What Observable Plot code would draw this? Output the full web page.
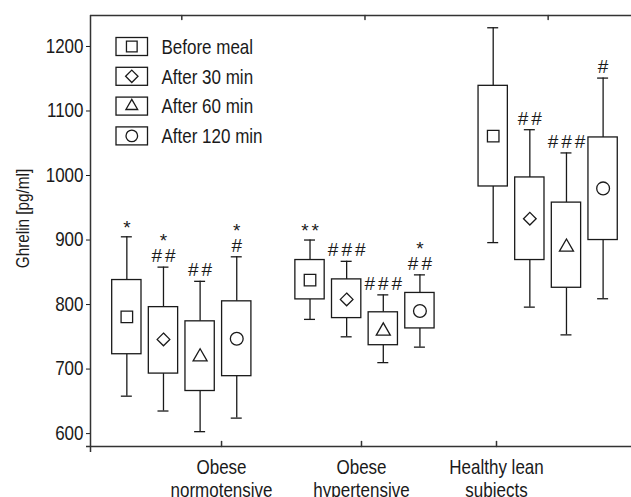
<!DOCTYPE html>
<html><head><meta charset="utf-8">
<script src="https://cdn.jsdelivr.net/npm/d3@7"></script>
<script src="https://cdn.jsdelivr.net/npm/@observablehq/plot@0.6"></script>
<style>
html,body{margin:0;padding:0;background:#fff;}
#chart{position:relative;width:631px;height:497px;overflow:hidden}
</style></head><body><div id="chart"></div>
<script>
// ---- data ----
const groups = ["Obese\nnormotensive", "Obese\nhypertensive", "Healthy lean\nsubjects"];
const series = ["Before meal", "After 30 min", "After 60 min", "After 120 min"];
const whiskerLow  = [[658, 635, 603, 624], [777, 750, 710, 734], [896, 796, 753, 809]];
const boxLow      = [[723, 693, 666, 689], [808, 779, 737, 763], [983, 869, 826, 900]];
const centre      = [[781, 746, 719, 747], [838, 808, 759, 790], [1061, 933, 889, 980]];
const boxHigh     = [[838, 796, 774, 805], [869, 839, 788, 818], [1139, 997, 958, 1059]];
const whiskerHigh = [[905, 858, 836, 874], [900, 867, 815, 846], [1229, 1071, 1035, 1151]];
const annotations = [["*", "*\n##", "##", "*\n#"], ["**", "###", "###", "*\n##"], ["", "##", "###", "#"]];
const yTicks = [600, 700, 800, 900, 1000, 1100, 1200];

// ---- layout / style ----
const FONT = '"Liberation Sans",Arial,sans-serif';
const NARROW = 0.85; // horizontal squeeze to mimic a condensed face
const INK = "#1a1a1a";
const step = 0.2, halfBox = 0.08, halfCap = 0.03;
const groupLabelAt = [1.217, 1.981, 2.718];
const symbols = ["square", "diamond2", "triangle", "circle"];
const symbolR = [6.5, 5.7, 5.2, 6.4];

const boxes = [];
groups.forEach((g, i) => series.forEach((s, j) => {
  const lines = annotations[i][j].split("\n");
  boxes.push({
    group: g, series: s, j,
    x: i + 1 + (j - 1.5) * step,
    wl: whiskerLow[i][j], bl: boxLow[i][j], c: centre[i][j],
    bh: boxHigh[i][j], wh: whiskerHigh[i][j],
    stars: lines.find(t => t.includes("*")) || "",
    hashes: lines.find(t => t.includes("#")) || ""
  });
}));

const tickLine = {draw(ctx, l) { ctx.moveTo(0, 0); ctx.lineTo(0, -l); }};
const annot = {x: "x", y: "wh", lineAnchor: "bottom", dx: 1.5, fontSize: 19, fill: INK};

const chart = Plot.plot({
  width: 631, height: 497,
  marginLeft: 90, marginRight: 0, marginTop: 15, marginBottom: 51,
  x: {domain: [0.5016, 3.455], axis: null},
  y: {domain: [580, 1248]},
  style: {fontFamily: FONT, fontSize: "20px", color: INK, background: "#fff", overflow: "visible"},
  marks: [
    Plot.axisY(yTicks, {tickSize: 4, tickPadding: 3, fontSize: 20, label: null, stroke: INK, tickFormat: d => String(d)}),
    Plot.ruleX([0.5016], {stroke: "#333", strokeWidth: 1.5, insetBottom: -6}),
    Plot.ruleY([580], {stroke: "#333", strokeWidth: 1.5, insetLeft: -4}),
    Plot.ruleY([1248], {stroke: "#333", strokeWidth: 1.5}),
    Plot.vector([1, 2, 3], {x: d => d, frameAnchor: "top", length: 4, rotate: 180, anchor: "start", shape: tickLine, stroke: "#333", strokeWidth: 1.5}),
    Plot.vector(groupLabelAt, {x: d => d, frameAnchor: "bottom", length: 5, anchor: "start", shape: tickLine, stroke: "#333", strokeWidth: 1.5}),
    Plot.ruleX(boxes, {x: "x", y1: "bh", y2: "wh", stroke: INK, strokeWidth: 1.3}),
    Plot.ruleX(boxes, {x: "x", y1: "wl", y2: "bl", stroke: INK, strokeWidth: 1.3}),
    Plot.ruleY(boxes, {y: "wh", x1: d => d.x - halfCap, x2: d => d.x + halfCap, stroke: INK, strokeWidth: 1.3}),
    Plot.ruleY(boxes, {y: "wl", x1: d => d.x - halfCap, x2: d => d.x + halfCap, stroke: INK, strokeWidth: 1.3}),
    Plot.rect(boxes, {x1: d => d.x - halfBox, x2: d => d.x + halfBox, y1: "bl", y2: "bh", fill: "white", stroke: INK, strokeWidth: 1.3}),
    ...symbols.map((sym, j) => Plot.dot(boxes.filter(d => d.j === j), {x: "x", y: "c", symbol: sym, r: symbolR[j], fill: "white", stroke: INK, strokeWidth: 1.3})),
    Plot.text(boxes.filter(d => d.hashes), {...annot, text: "hashes", dy: -5}),
    Plot.text(boxes.filter(d => d.stars && d.hashes), {...annot, text: "stars", dy: -20}),
    Plot.text(boxes.filter(d => d.stars && !d.hashes), {...annot, text: "stars", dy: -3}),
    Plot.text(groups, {x: (d, i) => groupLabelAt[i], frameAnchor: "bottom", lineAnchor: "top", dy: 12, lineHeight: 1.12, fontSize: 20, fill: INK}),
    Plot.text(["Ghrelin [pg/ml]"], {frameAnchor: "left", textAnchor: "middle", rotate: -90, dx: -67, dy: -12.5, fontSize: 18, lineAnchor: "middle", fill: INK})
  ]
});

const svg = d3.select(chart);
const isAnnot = el => /^[#*\s]+$/.test(el.textContent);
// significance marks: spaced as in the source
svg.selectAll("text").filter(function() { return isAnnot(this); }).style("letter-spacing", "3px");
// squeeze all other texts horizontally about their anchor point
svg.selectAll("text").filter(function() { return !isAnnot(this); })
  .attr("transform", function() { return (this.getAttribute("transform") || "") + ` scale(${NARROW},1)`; });

// ---- legend ----
const legendSymbols = [d3.symbolSquare, d3.symbolDiamond2, d3.symbolTriangle, d3.symbolCircle];
const legendSizes = [114, 98, 60, 106];
const lg = svg.append("g").attr("font-family", FONT).attr("font-size", 20).attr("fill", INK).attr("text-anchor", "start");
series.forEach((s, i) => {
  const cy = 46.5 + i * 29.8;
  lg.append("rect").attr("x", 116).attr("y", cy - 9).attr("width", 31.5).attr("height", 18)
    .attr("fill", "white").attr("stroke", INK).attr("stroke-width", 1.3);
  lg.append("path").attr("transform", `translate(131.8,${cy})`)
    .attr("d", d3.symbol(legendSymbols[i], legendSizes[i])())
    .attr("fill", "none").attr("stroke", INK).attr("stroke-width", 1.3);
  lg.append("text").attr("transform", `translate(161.5,${cy + 7.3}) scale(${NARROW},1)`).text(s);
});

document.getElementById("chart").appendChild(chart);
</script></body></html>
